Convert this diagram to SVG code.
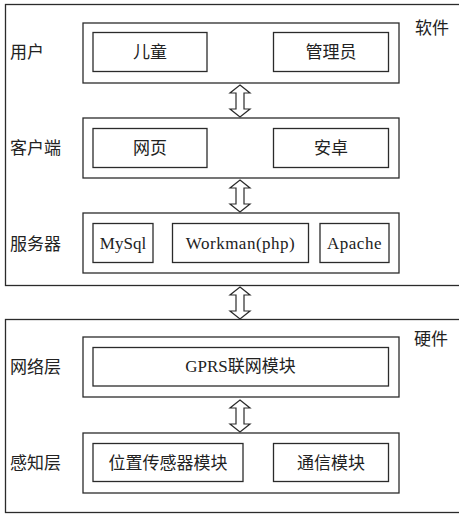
<svg xmlns="http://www.w3.org/2000/svg" width="459" height="514" viewBox="0 0 459 514">
<style>
.box{fill:#fff;stroke:#2b2b2b;stroke-width:1.3}
.arr{fill:#fff;stroke:#2b2b2b;stroke-width:1.2;stroke-linejoin:miter}
text{font-family:"Liberation Serif","Noto Sans CJK SC",serif;font-size:17px;fill:#222;dominant-baseline:central}
.m{text-anchor:middle}
</style>
<rect width="459" height="514" fill="#fff"/>
<g id="software">
<rect class="box" x="5.5" y="4.5" width="460" height="281"/>
<text x="415" y="28">软件</text>
</g>
<g id="hardware">
<rect class="box" x="5.5" y="319.5" width="460" height="193"/>
<text x="414" y="339">硬件</text>
</g>
<g id="user">
<rect class="box" x="83" y="23" width="316" height="60"/>
<text x="10" y="52">用户</text>
</g>
<g id="child"><rect class="box" x="93" y="32.5" width="114" height="39"/><text class="m" x="150" y="52">儿童</text></g>
<g id="admin"><rect class="box" x="273.5" y="32.5" width="115" height="39"/><text class="m" x="331" y="52">管理员</text></g>
<g id="client">
<rect class="box" x="83" y="118" width="316" height="60"/>
<text x="10" y="148">客户端</text>
</g>
<g id="web"><rect class="box" x="93" y="128.5" width="114" height="39"/><text class="m" x="150" y="148">网页</text></g>
<g id="android"><rect class="box" x="273.5" y="128.5" width="115" height="39"/><text class="m" x="331" y="148">安卓</text></g>
<g id="server">
<rect class="box" x="83" y="213" width="316" height="60"/>
<text x="10" y="244">服务器</text>
</g>
<g id="mysql"><rect class="box" x="93" y="223.5" width="60" height="39"/><text class="m" x="123" y="243">MySql</text></g>
<g id="workman"><rect class="box" x="172.5" y="223.5" width="136" height="39"/><text class="m" x="240.5" y="243" letter-spacing="0.5">Workman(php)</text></g>
<g id="apache"><rect class="box" x="320" y="223.5" width="69" height="39"/><text class="m" x="354.5" y="243" letter-spacing="0.5">Apache</text></g>
<g id="network">
<rect class="box" x="83" y="337" width="316" height="60"/>
<text x="10" y="367">网络层</text>
</g>
<g id="gprs"><rect class="box" x="93" y="347.5" width="295.5" height="38.5"/><text class="m" x="240.5" y="366">GPRS联网模块</text></g>
<g id="sensing">
<rect class="box" x="83" y="433" width="316" height="60"/>
<text x="10" y="463">感知层</text>
</g>
<g id="sensor"><rect class="box" x="93" y="443.5" width="150" height="38"/><text class="m" x="168" y="463">位置传感器模块</text></g>
<g id="comm"><rect class="box" x="273.5" y="443.5" width="115" height="38"/><text class="m" x="331" y="463">通信模块</text></g>
<g id="connectors">
<path class="arr" d="M240,85 L250,93 L244,93 L244,109 L250,109 L240,117 L230,109 L236,109 L236,93 L230,93 Z"/>
<path class="arr" d="M240,180 L250,188 L244,188 L244,204 L250,204 L240,212 L230,204 L236,204 L236,188 L230,188 Z"/>
<path class="arr" d="M240,287 L250,295 L244,295 L244,311 L250,311 L240,319 L230,311 L236,311 L236,295 L230,295 Z"/>
<path class="arr" d="M240,400 L250,408 L244,408 L244,424 L250,424 L240,432 L230,424 L236,424 L236,408 L230,408 Z"/>
</g>
</svg>
